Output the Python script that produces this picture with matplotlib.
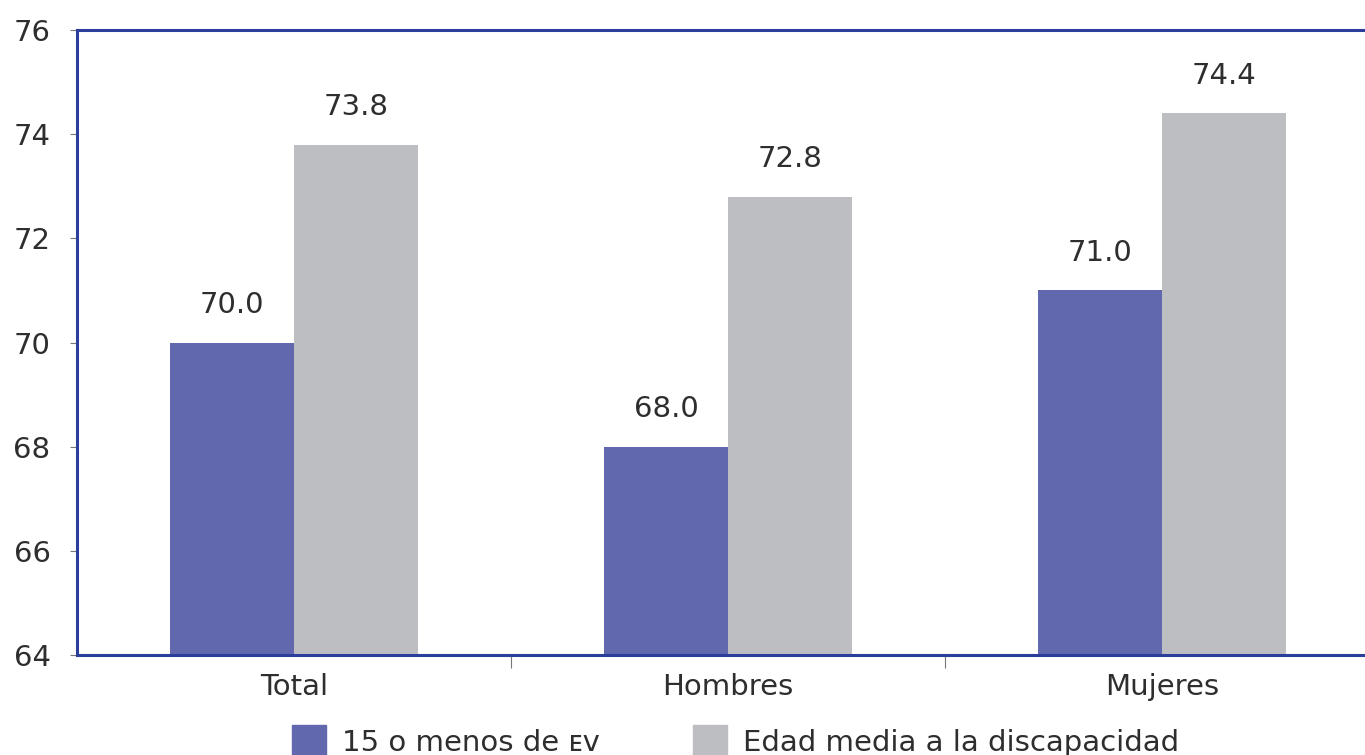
import matplotlib
matplotlib.use("Agg")
import matplotlib.pyplot as plt
import numpy as np
from matplotlib.patches import Patch

categories = ["Total", "Hombres", "Mujeres"]
serie_ev = [70.0, 68.0, 71.0]
serie_edad = [73.8, 72.8, 74.4]
labels = ["15 o menos de ᴇᴠ", "Edad media a la discapacidad"]
yticks = [64, 66, 68, 70, 72, 74, 76]

plt.rcParams['font.family'] = ['DejaVu Sans']

blue = "#6268AE"
grey = "#BDBEC2"
spine = "#2B3E9C"
txt = "#2e2e2e"
fs = 21

fig = plt.figure(figsize=(13.65, 7.55), dpi=100)
ax = fig.add_axes([77/1365, 1-655/755, (1379-77)/1365, (655-30)/755])

x = np.arange(len(categories))
w = 0.286
b1 = ax.bar(x - w/2, np.array(serie_ev) - 64, w, bottom=64, color=blue)
b2 = ax.bar(x + w/2, np.array(serie_edad) - 64, w, bottom=64, color=grey)

for bars, vals in ((b1, serie_ev), (b2, serie_edad)):
    for r, v in zip(bars, vals):
        ax.annotate(f"{v:.1f}", (r.get_x() + r.get_width()/2, v),
                    xytext=(0, 17), textcoords="offset points",
                    ha="center", va="bottom", fontsize=fs, color=txt)

ax.set_xlim(-0.5, 2.5)
ax.set_ylim(64, 76)
ax.set_yticks(yticks)
ax.set_xticks(x)
ax.set_xticklabels(categories)
ax.set_xticks([0.5, 1.5], minor=True)
ax.tick_params(axis='x', which='major', length=0, pad=13, labelsize=fs, labelcolor=txt)
ax.tick_params(axis='x', which='minor', length=9, width=0.8, color="#777777")
ax.tick_params(axis='y', length=5, width=0.8, color="#777777", pad=14, labelsize=fs, labelcolor=txt)

for s in ("left", "top", "bottom"):
    ax.spines[s].set_color(spine)
    ax.spines[s].set_linewidth(2.2)
ax.spines["right"].set_visible(False)

handles = [Patch(color=blue), Patch(color=grey)]
fig.legend(handles, labels, loc="center left", bbox_to_anchor=(266/1365, 0.018), ncol=2,
           frameon=False, fontsize=fs, handlelength=1.15, handleheight=1.35,
           columnspacing=3.2, handletextpad=0.55, labelcolor=txt)

fig.savefig("out.png", dpi=100)
